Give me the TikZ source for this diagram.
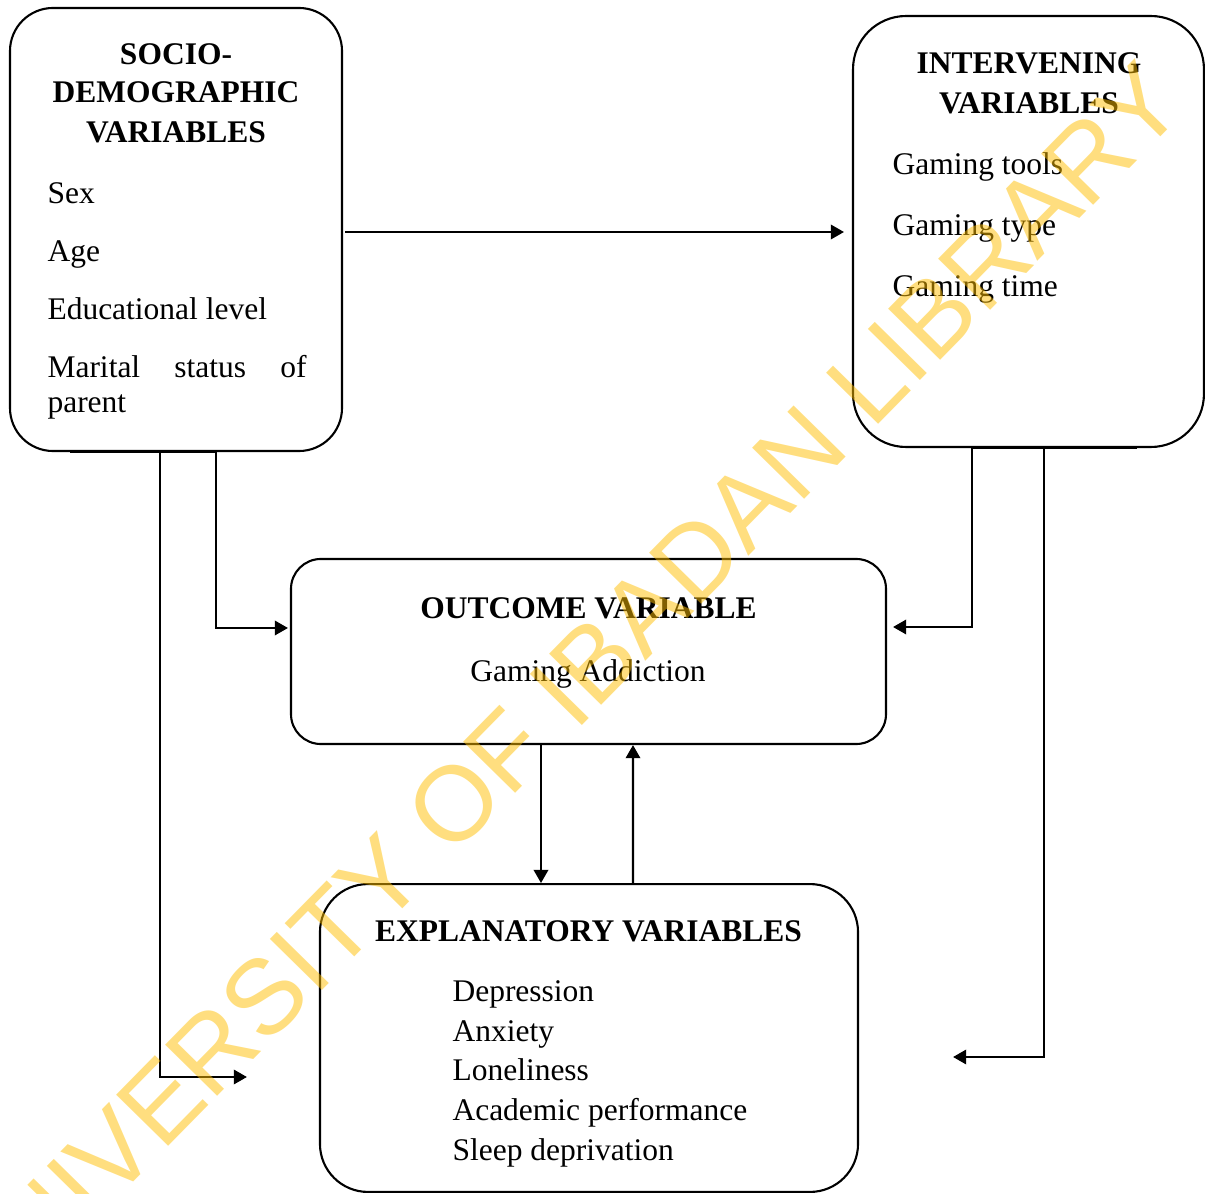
\documentclass[tikz,border=0pt]{standalone}
\usepackage{fontspec}
\setmainfont{Liberation Serif}
\newfontfamily\wmfont{Liberation Sans}
\usetikzlibrary{arrows.meta,calc}
\definecolor{wmyellow}{RGB}{255,190,0}
\tikzset{
  varbox/.style={draw, line width=0.8pt, inner sep=0pt},
  head/.style={anchor=base, inner sep=0pt, font=\bfseries\fontsize{12}{14}\selectfont},
  item/.style={anchor=base west, inner sep=0pt, font=\fontsize{12}{14}\selectfont},
  link/.style={line width=0.8pt},
  arr/.style={link, -{Triangle[length=5pt,width=5.5pt]}}
}
\begin{document}
\begin{tikzpicture}[x=0.381pt, y=-0.381pt]
\useasboundingbox (0,0) rectangle (1205,1194);

% the four boxes
\node[varbox, rounded corners=16.4pt, minimum width=126.5pt, minimum height=168.8pt] (soc) at (176,229.5) {};
\node[varbox, rounded corners=20.2pt, minimum width=133.7pt, minimum height=164.2pt] (intv) at (1028.5,231.5) {};
\node[varbox, rounded corners=11.4pt, minimum width=226.7pt, minimum height=70.5pt] (outc) at (588.5,651.5) {};
\node[varbox, rounded corners=18.3pt, minimum width=205pt, minimum height=117.3pt] (expl) at (589,1038) {};

% socio-demographic
\node[head] (socA) at (176,65) {SOCIO-};
\node[head] (socB) at (176,103) {DEMOGRAPHIC};
\node[head] (socC) at (176,143) {VARIABLES};
\node[item] (sex) at (47,204) {Sex};
\node[item] (age) at (47,262) {Age};
\node[item] (edu) at (47,320) {Educational level};
\node[item] (mar) at (47,378) {\makebox[98.7pt][s]{Marital status of}};
\node[item] (par) at (47,413) {parent};

% intervening
\node[head] (intA) at (1029,74) {INTERVENING};
\node[head] (intB) at (1029,114) {VARIABLES};
\node[item] (tools) at (892,175) {Gaming tools};
\node[item] (type) at (892,236) {Gaming type};
\node[item] (time) at (892,297) {Gaming time};

% outcome
\node[head] (outA) at (588.5,619) {OUTCOME VARIABLE};
\node[item, anchor=base] (addi) at (588,682) {Gaming Addiction};

% explanatory
\node[head] (expA) at (588.5,941) {EXPLANATORY VARIABLES};
\node[item] (depr) at (452,1001) {Depression};
\node[item] (anx) at (452,1041) {Anxiety};
\node[item] (lone) at (452,1080) {Loneliness};
\node[item] (acad) at (452,1120) {Academic performance};
\node[item] (sleep) at (452,1160) {Sleep deprivation};

% links
\draw[arr] ($(soc.east)+(2,2.5)$) -- ($(soc.east -| intv.west)+(-8,2.5)$);
\draw[arr] ($(soc.south)+(-106,0)$) -- ($(soc.south)+(40,0)$) |- ($(outc.west)+(-2,-23.5)$);
\draw[arr] ($(soc.south)+(-16,0)$) |- ($(expl.west)+(-72,39)$);
\draw[arr] ($(intv.south)+(108.5,0)$) -- ($(intv.south)+(-56.5,0)$) |- ($(outc.east)+(6,-24.5)$);
\draw[arr] ($(intv.south)+(15.5,0)$) |- ($(expl.east)+(94,19)$);
\draw[arr] ($(outc.south)+(-47.5,0)$) -- ($(expl.north)+(-48,0)$);
\draw[arr] ($(expl.north)+(44,0)$) -- ($(outc.south)+(44.5,0)$);

% watermark
\begin{scope}
\clip (0,0) rectangle (1205,1194);
\node[rotate=45.5, inner sep=0pt, text=wmyellow, text opacity=0.5, font=\wmfont\fontsize{40.4}{42}\selectfont] (wm) at (561,695) {UNIVERSITY OF IBADAN LIBRARY};
\end{scope}
\end{tikzpicture}
\end{document}
